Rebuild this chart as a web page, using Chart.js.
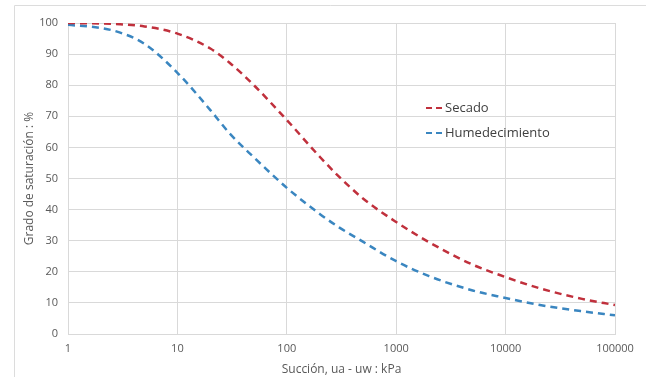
<!DOCTYPE html>
<html>
<head>
<meta charset="utf-8">
<script src="https://cdn.jsdelivr.net/npm/chart.js@4"></script>
<style>
  html, body { margin: 0; padding: 0; background: #fff; }
  #wrap { width: 646px; height: 377px; position: relative; }
</style>
</head>
<body>
<div id="wrap"><canvas id="chart1" width="646" height="377"></canvas></div>
<script>
// suction values (kPa) and degree of saturation (%)
const suction = [1, 2, 3, 5, 10, 20, 30, 50, 100, 200, 300, 500, 1000, 2000, 5000, 10000, 20000, 50000, 100000];
const secado = [100, 99.85, 99.6, 98.9, 96.6, 91.8, 87.2, 80.0, 68.8, 57.0, 50.6, 43.5, 36.0, 29.5, 22.3, 18.3, 14.8, 11.3, 9.3];
const humedecimiento = [99.4, 98.4, 96.9, 93.3, 84.0, 72.0, 64.5, 56.8, 47.0, 38.6, 34.3, 29.6, 23.4, 18.6, 14.0, 11.6, 9.4, 7.3, 6.0];
const xTicks = [1, 10, 100, 1000, 10000, 100000];
const seriesNames = ['Secado', 'Humedecimiento'];
const seriesColors = ['#c0303c', '#3a86c0'];

const FONT = "'Open Sans', sans-serif";
const TEXT = '#595959';

function toPoints(values) {
  return suction.map((s, i) => ({ x: s, y: values[i] }));
}

// light frame of the original screenshot + inside legend
const framePlugin = {
  id: 'frame',
  beforeDraw(chart) {
    const ctx = chart.ctx;
    ctx.save();
    ctx.strokeStyle = '#dcdcdc';
    ctx.lineWidth = 1;
    ctx.beginPath();
    ctx.moveTo(14.5, 377);
    ctx.lineTo(14.5, 5.5);
    ctx.lineTo(646, 5.5);
    ctx.stroke();
    ctx.restore();
  },
  afterDraw(chart) {
    const ctx = chart.ctx;
    ctx.save();
    ctx.font = "13px " + FONT;
    ctx.textBaseline = 'middle';
    chart.data.datasets.forEach((ds, i) => {
      const y = 108 + i * 25;
      ctx.strokeStyle = ds.borderColor;
      ctx.lineWidth = 2;
      ctx.setLineDash([6, 4]);
      ctx.beginPath();
      ctx.moveTo(426, y);
      ctx.lineTo(443, y);
      ctx.stroke();
      ctx.setLineDash([]);
      ctx.fillStyle = '#404040';
      ctx.fillText(ds.label, 445, y);
    });
    ctx.restore();
  }
};

new Chart(document.getElementById('chart1'), {
  type: 'line',
  data: {
    datasets: [
      {
        label: seriesNames[0],
        data: toPoints(secado),
        borderColor: seriesColors[0],
        borderWidth: 2.5,
        borderDash: [7, 5],
        pointRadius: 0,
        cubicInterpolationMode: 'monotone',
        fill: false
      },
      {
        label: seriesNames[1],
        data: toPoints(humedecimiento),
        borderColor: seriesColors[1],
        borderWidth: 2.5,
        borderDash: [7, 5],
        pointRadius: 0,
        cubicInterpolationMode: 'monotone',
        fill: false
      }
    ]
  },
  options: {
    responsive: false,
    animation: false,
    layout: { padding: { top: 23, right: 31, left: 22, bottom: 0 } },
    plugins: {
      legend: { display: false },
      tooltip: { enabled: false }
    },
    scales: {
      x: {
        type: 'logarithmic',
        min: 1,
        max: 100000,
        afterBuildTicks(scale) {
          scale.ticks = xTicks.map(v => ({ value: v }));
        },
        afterFit(scale) { scale.height = 43; },
        grid: { color: '#d9d9d9', drawTicks: false },
        border: { color: '#d9d9d9' },
        ticks: {
          color: TEXT,
          font: { family: FONT, size: 11 },
          padding: 8,
          maxRotation: 0,
          autoSkip: false,
          callback: v => String(v)
        },
        title: {
          display: true,
          text: 'Succión, ua - uw : kPa',
          color: TEXT,
          font: { family: FONT, size: 12 },
          padding: { top: 2, bottom: 0 }
        }
      },
      y: {
        min: 0,
        max: 100,
        afterFit(scale) { scale.width = 46; },
        grid: { color: '#d9d9d9', drawTicks: false },
        border: { color: '#d9d9d9' },
        ticks: {
          stepSize: 10,
          color: TEXT,
          font: { family: FONT, size: 11 },
          padding: 10
        },
        title: {
          display: true,
          text: 'Grado de saturación : %',
          color: TEXT,
          font: { family: FONT, size: 12 },
          padding: { top: 0, bottom: 0 }
        }
      }
    }
  },
  plugins: [framePlugin]
});
</script>
</body>
</html>
